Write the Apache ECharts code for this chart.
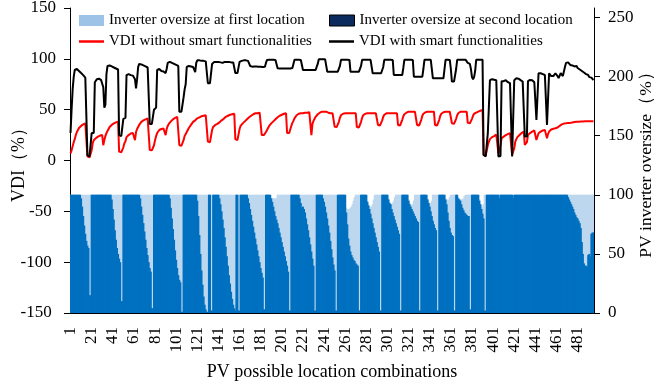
<!DOCTYPE html>
<html><head><meta charset="utf-8">
<script src="https://cdn.jsdelivr.net/npm/echarts@6/dist/echarts.min.js"></script>
<style>html,body{margin:0;padding:0;background:#fff}#c{width:654px;height:385px}</style>
</head><body><div id="c"></div>
<script>
// PV location combinations 1..496 (category labels)
const categories = Array.from({length: 496}, (_, i) => String(i + 1));
const leftTicks = [-150, -100, -50, 0, 50, 100, 150];
const rightTicks = [0, 50, 100, 150, 200, 250];

// Inverter oversize at first location (%), right axis
const firstLoc = [
100,100,100,100,100,100,100,100,100,100,
100,100,100,100,100,100,100,100,100,100,
100,100,100,100,100,100,100,100,100,100,
100,100,100,100,100,100,100,100,100,100,
100,100,100,100,100,100,100,100,100,100,
100,100,100,100,100,100,100,100,100,100,
100,100,100,100,100,100,100,100,100,100,
100,100,100,100,100,100,100,100,100,100,
100,100,100,100,100,100,100,100,100,100,
100,100,100,100,100,100,100,100,100,100,
100,100,100,100,100,100,100,100,100,100,
100,100,100,100,100,100,100,100,100,100,
100,100,100,100,100,100,100,100,100,100,
100,100,100,100,100,100,100,100,100,100,
100,100,100,100,100,100,100,100,100,100,
100,100,100,100,100,100,100,100,100,100,
100,100,100,100,100,100,100,100,100,100,
100,100,100,100,100,100,100,100,100,100,
100,100,100,100,100,100,100,100,100,100,
97,97,97,97,97,97,100,100,100,100,
100,100,100,100,100,100,100,100,100,100,
100,100,100,100,100,100,100,100,100,100,
100,100,100,100,100,100,100,100,100,100,
100,100,100,100,100,100,100,100,100,100,
100,100,100,100,100,100,100,100,100,100,
100,100,100,100,100,100,100,100,100,100,
100,89,88,88,88,89,90,92,95,98,
100,100,100,100,100,100,100,100,100,100,
100,95,92,90,90,90,92,96,100,100,
100,100,100,100,100,100,100,100,100,100,
100,97,94,92,92,93,95,98,100,100,
100,100,100,100,100,100,100,100,100,100,
96,93,91.5,91.5,92,95,100,100,100,100,
100,100,100,100,100,100,100,100,97,94,
93,93,95,100,100,100,100,100,100,100,
100,100,100,100,100,97,96,95.5,96,98,
100,100,100,100,100,100,100,98,97,96,
96,96,97,99,100,100,100,100,100,100,
100,100,100,100,100,100,100,96,92,90,
90,92,100,100,100,100,100,100,100,100,
100,100,100,100,100,100,97,100,100,100,
100,100,100,100,100,100,100,100,100,97,
100,100,100,100,100,100,100,100,100,100,
100,100,100,100,100,100,100,100,100,100,
100,100,100,100,100,100,100,100,100,100,
100,100,100,100,100,100,100,100,100,100,
100,100,100,100,100,100,100,100,100,100,
100,100,100,100,100,100,100,100,100,100,
100,100,100,100,100,100,100,100,100,100,
100,100,100,100,100,100
];

// Inverter oversize at second location (%), right axis
const secondLoc = [
100,100,100,100,100,100,100,100,100,100,
97,90,82,74,67,61,57,55,15,15,
100,100,100,100,100,100,100,100,100,100,
100,100,100,100,100,100,100,100,100,96,
88,79,70,62,55,50,46,43,10,10,
100,100,100,100,100,100,100,100,100,100,
100,100,100,100,100,100,97,90,83,76,
69,62,55,49,43,38,35,4,4,100,
100,100,100,100,100,100,100,100,100,100,
100,100,100,100,97,89,80,71,62,53,
45,38,32,28,26,1,1,100,100,100,
100,100,100,100,100,100,100,100,100,100,
95,82,66,50,36,24,14,7,3,1,
1,100,100,2,2,100,100,100,100,100,
100,97,92,86,79,72,64,56,48,40,
32,25,18,12,7,4,2,100,100,2,
2,100,100,100,100,100,100,100,97,93,
88,83,78,73,68,63,58,53,48,43,
38,34,30,3,3,100,100,100,100,100,
97,94,90,86,82,79,76,72,68,64,
60,56,52,48,44,40,35,2,2,100,
100,100,100,100,100,100,100,97,93,89,
90,88,85,80,75,70,64,58,52,46,
40,2,2,100,100,100,100,100,100,97,
94,90,85,80,74,68,61,54,47,41,
36,2,2,100,100,100,100,100,100,100,
100,85,75,63,57,52,49,47,45,44,
42,41,40,2,2,100,100,100,100,100,
100,94,91,88,84,80,76,72,68,64,
60,56,52,2,2,100,100,100,100,100,
100,96,93,92,88,85,82,79,76,73,
70,67,2,2,100,100,100,100,100,100,
95,92,90,88,86,84,82,80,78,77,
2,2,100,100,100,100,100,100,96,93,
90,86,82,78,75,72,70,2,2,100,
100,100,100,100,100,96,92,85,78,72,
68,66,65,2,2,100,100,97,96,95,
92,89,87,85,84,83,82,82,3,3,
100,100,100,100,100,100,100,95,92,88,
84,80,2,2,100,100,100,100,100,100,
100,100,100,100,100,100,97,100,100,100,
100,100,100,100,100,100,100,100,100,97,
100,100,100,100,100,100,100,100,100,100,
100,100,100,100,100,100,100,100,100,100,
100,100,100,100,100,100,100,100,100,100,
100,100,100,100,100,100,100,100,100,100,
100,100,100,100,100,100,100,100,100,100,
100,98,96,94,92,90,88,85,83,81,
80,78,76,72,60,50,42,40,40,39,
49,50,48,67,68,68
];

// VDI without smart functionalities (%), left axis
const vdiWithout = [
7,10,14,18,21,25,28,30,32,33,34,35,35.5,36,36.5,36.5, 4,3,3,4, 10,17,20, 21,22,23,23.5,24,24.5,25,25,
15,20,24,27,29,31,33,34,35,36,36.5,37,37.5,38,38.2, 8.7,8,8,9, 13,17,19, 23,24.5,25,26,26.5,27,27,27,
20,28,31,33,35,36.5,38,39,39.5,40,40.5,41,41.5,41.5, 10.4,10,10,11, 15,20,24, 27,28.5,30,30,31,31,31.5,31,
25,31,34,36,37.5,38.5,39.5,40.5,41,42,42.5,43,43, 15,14.5,14.5,15, 20,24,26, 28,30,32,33.5,35,36.5,38,39,
39.5,40.5,41.5,42,42.5,43,43.5,44,44,44.5,44.5,45, 18.6,18,18,19, 30,33,34.5, 35,35.5,36,36.5,37.5,38.5,39.5,40,
41,42,43,43.5,44,44.5,45,45,45.5,45.5,46, 21,20,20,21, 31,34,35.5, 36.5,37.5,38.5,39.5,40.5,41.5,42.5,43,
44,45,45.5,46,46.5,46.5,46.5,47,47,47, 25,25,25,26, 28,30,32, 34,35,36.5,37.5,38.5,39.5,40.5,41.5,
42.5,43.5,44,44.5,45,45.5,46,46.5,46.5, 27,26.8,27,28, 34,37,39, 41.5,43,44.5,45.5,46,46.5,46.5,46.5,
46.5,46.5,47,47,47,47,47.5,47.5, 25,36,39,41, 43,44.5,45.5, 46.5,47,47.5,48,48,48,48,48,
47.5,47,46.5,46.5,46.5,46.5,46.5, 33.3,33,33,34, 38,42,44.5, 45.5,46,46.4,46.4,46.4,46.4,46.4,46.4,
46.4,46.4,46.5,46.5,46.5,46.5, 33,32.5,32.5,33.5, 38,42,44.5, 45.5,46,46.4,46.4,46.5,46.5,46.5,46.5,
46.5,46.5,46.5,46.5,46.5, 35,34.5,34.5,35.5, 39.5,43,45, 46,46.4,46.5,46.5,46.5,46.5,46.5,46.5,
46.5,46.5,46.5,46.5, 35,34.5,34.5,35.5, 40,43.5,45.5, 46.5,47,47.5,48,48,48,48,48,
48,48,48, 35,34.5,34.5,35.5, 40,44,46, 47,47.5,48,48,48,48,48,48,
48,48, 35,34.5,34.5,35.5, 40,44,46, 47,47.5,48,48,48,48,48,48,
48, 36.6,36,36,37, 41,44.5,46.5, 47.5,48,48,48,48,48,48,48,
37,36.6,36.6,37.5, 41,44,46, 46.5,47,47.5,48,48.5,49,49.5,49.7,
5.4,5,5,5.4,15,18.6,21,22,23,23.5,24,25,25.5,26,
7,7,15,21.8,23,23.5,24,25,25.5,26,26.5,27,27,
5.4,5.4,12,18.6,21,23,24,25,26,27,28,28.5,
15.3,16,18,25,26,27,28,28.4,29,29.5,30,
20.2,22,26.8,27.5,28.4,29,29.5,30,30,30.5,
21.8,26,28.5,30,30.5,31,31.2,31.5,31.7,
32,32.5,33,34,35,35.5,36,36.3,
36.6,36.6,36.8,37,37,37,37.2,37.4,37.6,37.8,38,38.2,38.2,38.2,38.2,38.3,38.3,38.4,38.4,38.5,38.5,38.5,38.6,38.6,38.6,38.7,38.7,38.7
];

// VDI with smart functionalities (%), left axis
const vdiWith = [
27,50,70,82,89,90.5,90,89,88,87,86,85,84,83,81.5,80, 5,4,4,5, 27,27,27, 77,78,80,81,80.5,80,79,78,
72,52,55,85,93,94,93.5,93,92.5,92,91.5,91,90.5,90,89.5, 25,24,24,25, 41,41.5,42, 84,85,85,84.5,84,84,83.5,83,
80,71,80,92,95,95,94.5,94,93.5,93,92.5,92,91.5,91, 36,36,36,37, 50,51,52, 89,90,90,89,88,88,87.5,87,
86,90,96,97,97,96.5,96,95.5,95,94.5,94,93.5,93, 48,48,48,49, 62,70,75, 92,93,93,92.5,92.5,92,92,91.5,
87,96,98.5,98.5,98.5,98.5,98,98,98,98,97.5,97.5, 76,76,76,77, 95,96.5,97, 97,97,97,97,96.5,96.5,96.5,96,
97,97,97,97,97,97,96.5,96.5,96.5,96.5,96.5, 86,86,86,87, 97,98,98, 98.5,98.5,98.5,98.5,98,98,97.5,93,
92.3,92.3,92.3,92.5,92.5,92.5,92.3,92.3,92.3,92.3, 92,92,92,92.3, 96,98.9,98.9, 99,99,99,99,99,98.9,98.9,98.9,
90.7,90.7,90.5,90.5,90.5,90.5,90.5,90.5,90.5, 90.5,90.5,90.5,90.5, 90.7,91,95, 99,99,99,99,99,98.9,98.9,98.9,
89,89,89,89,89,89,89,89, 89,89,89,89, 89,89.5,95, 99.5,99.5,99.5,99.5,99.5,99.5,99.5,99.5,
87.4,87.4,87.4,87.4,87.4,87.4,87.4, 87.4,87.4,87.4,87.4, 87.4,93,99, 99,99,99,99,99,99,99,98.9,
87.4,87.4,87.4,87.4,87.4,87.4, 87.4,87.4,87.4,87.4, 93,99,99, 99,99,99,99,99,99,99,98.9,
85.8,85.8,85.8,85.8,85.8, 85.8,85.8,85.8,85.8, 86,92,99, 99,99,99,99,99,99,99,98.9,
84.1,84.1,84.1,84.1, 84.1,84.1,84.1,84.1, 84.1,91,99, 99,99,99,99,99,99,99,98.9,
82.5,82.5,82.5, 82.5,82.5,82.5,82.5, 82.5,82.5,90, 99,99,99,99,99,99,99,98.9,
80.8,80.8, 80.8,80.8,80.8,80.8, 80.8,80.8,80.8, 80.8,80.8,90,99,99,99,99,98.9,
90, 77.6,77.6,77.6,77.6, 90,99,99, 99,99,99,99,99,99,99,99,
96,95.6,95,90, 82,80,82, 88,99,99,99,99,99,99,99,
5.4,4,4,5.4,27,27,79,80,80,80,79.5,79,79,78.5,
4,4,4.5,78,78,78,79,79,78,77,76,76,75.5,
4,4.5,79,80.8,80.8,80.8,80.5,80,79,78,77.6,77.6,
23.5,23.5,23.5,78,79.2,79.2,79.2,79,78,77,76,
39.9,40,85.8,85.8,85.8,85.5,85,84.5,84.1,84,
35,36,85.8,84,83,82.5,83,84.5,85.8,
85,83,81,81.5,86,87.4,83,82.5,
92,96,97,96.5,95,94,95,93.5,93,92.5,92.3,93,91,90,89.5,89,88,87.4,86.5,85.8,85,84.5,84.1,82,81,81.5,80,79.2
];

const FONT = "'Liberation Serif','Times New Roman',Times,serif";
const N1 = 'Inverter oversize at first location';
const N2 = 'Inverter oversize at second location';
const N3 = 'VDI without smart functionalities';
const N4 = 'VDI with smart functionalities';

const legendBase = {
  orient: 'horizontal', itemWidth: 25, itemHeight: 11, itemGap: 0, padding: 0,
  selectedMode: false,
  textStyle: {fontSize: 15, color: '#000', fontFamily: FONT}
};

const chart = echarts.init(document.getElementById('c'), null, {renderer: 'canvas'});
const bad = [firstLoc, secondLoc, vdiWithout, vdiWith].some(a => a.length !== 496);

chart.setOption({
  animation: false,
  backgroundColor: '#fff',
  textStyle: {fontFamily: FONT},
  title: bad ? {text: 'LEN ' + [firstLoc.length, secondLoc.length, vdiWithout.length, vdiWith.length].join(','), left: 200, top: 150} : undefined,
  grid: {left: 70, right: 60, top: 8, bottom: 72, containLabel: false, outerBoundsMode: 'none'},
  legend: [
    Object.assign({}, legendBase, {left: 79, top: 13, data: [{name: N1, icon: 'rect', itemStyle: {color: '#9DC3E6'}}]}),
    Object.assign({}, legendBase, {left: 329, top: 13, data: [{name: N2, icon: 'rect', itemStyle: {color: '#0B2B5E', borderColor: '#000', borderWidth: 1}}]}),
    Object.assign({}, legendBase, {left: 79, top: 34, itemHeight: 2.5, data: [{name: N3, icon: 'rect', itemStyle: {color: '#FF0000'}}]}),
    Object.assign({}, legendBase, {left: 329, top: 34, itemHeight: 2.5, data: [{name: N4, icon: 'rect', itemStyle: {color: '#000000'}}]})
  ],
  xAxis: {
    type: 'category', data: categories, boundaryGap: true,
    axisLine: {onZero: false, lineStyle: {color: '#000', width: 1}},
    axisTick: {alignWithLabel: true, interval: 19, length: 6, lineStyle: {color: '#000'}},
    axisLabel: {interval: 19, rotate: 90, margin: 14, fontSize: 17, color: '#000', fontFamily: FONT},
    splitLine: {show: false},
    name: 'PV possible location combinations', nameLocation: 'middle', nameGap: 50, nameMoveOverlap: false,
    nameTextStyle: {fontSize: 18, color: '#000', fontFamily: FONT}
  },
  yAxis: [
    {
      type: 'value', position: 'left', min: -150, max: 150, interval: 50,
      axisLine: {show: true, lineStyle: {color: '#000'}},
      axisTick: {show: true, length: 6, lineStyle: {color: '#000'}},
      axisLabel: {fontSize: 17, color: '#000', margin: 14, fontFamily: FONT,
        formatter: v => (v < 0 ? v + '\u00a0' : String(v))},
      splitLine: {show: false},
      name: 'VDI（%）', nameLocation: 'middle', nameGap: 42, nameMoveOverlap: false,
      nameTextStyle: {fontSize: 18, color: '#000', fontFamily: FONT}
    },
    {
      type: 'value', position: 'right', min: 0, max: 258, interval: 50,
      axisLine: {show: true, lineStyle: {color: '#000'}},
      axisTick: {show: true, length: 6, lineStyle: {color: '#000'}, customValues: rightTicks},
      axisLabel: {fontSize: 17, color: '#000', margin: 14, fontFamily: FONT, customValues: rightTicks,
        formatter: v => (rightTicks.indexOf(v) >= 0 ? String(v) : '')},
      splitLine: {show: false},
      name: 'PV inverter oversize（%）', nameLocation: 'middle', nameGap: 43, nameMoveOverlap: false,
      nameTextStyle: {fontSize: 17.5, color: '#000', fontFamily: FONT}
    }
  ],
  series: [
    {name: N1, type: 'bar', yAxisIndex: 1, data: firstLoc, barGap: '-100%', barWidth: 2,
      itemStyle: {color: '#BDD7EE'}, silent: true},
    {name: N2, type: 'bar', yAxisIndex: 1, data: secondLoc, barGap: '-100%', barWidth: 2,
      itemStyle: {color: '#0070C0'}, silent: true},
    {name: N3, type: 'line', yAxisIndex: 0, data: vdiWithout, symbol: 'none', showSymbol: false,
      lineStyle: {color: '#FF0000', width: 2}, itemStyle: {color: '#FF0000'}, silent: true},
    {name: N4, type: 'line', yAxisIndex: 0, data: vdiWith, symbol: 'none', showSymbol: false,
      lineStyle: {color: '#000000', width: 2}, itemStyle: {color: '#000000'}, silent: true}
  ]
});
</script>
</body></html>
